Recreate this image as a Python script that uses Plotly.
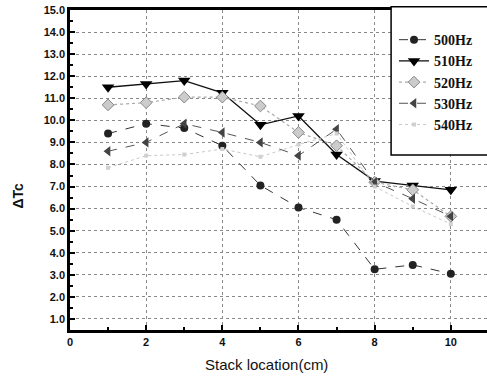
import plotly.graph_objects as go

x_cm = [1, 2, 3, 4, 5, 6, 7, 8, 9, 10]
dtc_500 = [9.4, 9.85, 9.65, 8.85, 7.05, 6.05, 5.5, 3.25, 3.45, 3.05]
dtc_510 = [11.5, 11.65, 11.8, 11.25, 9.8, 10.2, 8.45, 7.25, 7.05, 6.85]
dtc_520 = [10.7, 10.8, 11.05, 11.05, 10.65, 9.45, 8.85, 7.2, 6.85, 5.65]
dtc_530 = [8.6, 9.0, 9.85, 9.45, 9.0, 8.4, 9.6, 7.2, 6.45, 5.65]
dtc_540 = [7.85, 8.4, 8.45, 8.7, 8.35, 8.9, 9.4, 7.0, 6.1, 5.3]
series_names = ["500Hz", "510Hz", "520Hz", "530Hz", "540Hz"]
y_ticks = [1, 2, 3, 4, 5, 6, 7, 8, 9, 10, 11, 12, 13, 14, 15]
x_ticks = [0, 2, 4, 6, 8, 10]

styles = [
    dict(line=dict(color="#333333", width=1, dash="dash"),
         marker=dict(symbol="circle", size=8, color="#222222")),
    dict(line=dict(color="#111111", width=1.3, dash="solid"),
         marker=dict(symbol="triangle-down", size=11, color="#000000")),
    dict(line=dict(color="#aaaaaa", width=1.2, dash="dot"),
         marker=dict(symbol="diamond", size=9, color="#cccccc",
                     line=dict(color="#888888", width=1))),
    dict(line=dict(color="#555555", width=1, dash="dash"),
         marker=dict(symbol="triangle-left", size=9, color="#444444")),
    dict(line=dict(color="#c8c8c8", width=1, dash="dot"),
         marker=dict(symbol="square", size=4, color="#d0d0d0")),
]

fig = go.Figure()
for name, ys, st in zip(series_names, [dtc_500, dtc_510, dtc_520, dtc_530, dtc_540], styles):
    fig.add_trace(go.Scatter(x=x_cm, y=ys, mode="lines+markers", name=name,
                             line=st["line"], marker=st["marker"]))

tickfont = dict(family="Liberation Sans", size=11, color="#111111", weight="bold")

fig.update_layout(
    width=487, height=379,
    margin=dict(l=70, r=0, t=10, b=49),
    paper_bgcolor="white", plot_bgcolor="white",
    showlegend=True,
    legend=dict(x=0.777, y=0.956, xanchor="left", yanchor="top",
                bgcolor="rgba(0,0,0,0)", borderwidth=0,
                font=dict(family="Liberation Serif", size=14, color="#111111", weight="bold"),
                itemwidth=30, tracegroupgap=0),
    xaxis=dict(range=[0, 10.95], tickmode="array", tickvals=x_ticks,
               ticktext=[str(v) for v in x_ticks],
               showline=True, linecolor="black", linewidth=2.5, mirror=True,
               ticks="inside", ticklen=5, tickwidth=2, tickcolor="black",
               minor=dict(dtick=1, ticks="inside", ticklen=3, tickcolor="black", showgrid=False),
               showgrid=True, gridcolor="#888888", gridwidth=1, griddash="dot",
               tickfont=tickfont, zeroline=False),
    yaxis=dict(range=[0.5, 15], tickmode="array", tickvals=y_ticks,
               ticktext=[f"{v:.1f}" for v in y_ticks],
               showline=True, linecolor="black", linewidth=2.5,
               ticks="inside", ticklen=5, tickwidth=2, tickcolor="black",
               minor=dict(dtick=0.5, ticks="inside", ticklen=3, tickcolor="black", showgrid=False),
               showgrid=True, gridcolor="#888888", gridwidth=1, griddash="dot",
               tickfont=tickfont, zeroline=False),
    shapes=[dict(type="rect", xref="paper", yref="paper",
                 x0=0.77, x1=1.2, y0=0.547, y1=1.01,
                 fillcolor="white", line=dict(color="black", width=1.5), layer="above")],
    annotations=[
        dict(text="Stack location(cm)", xref="paper", yref="paper", x=0.472, y=-0.109,
             showarrow=False, xanchor="center", yanchor="middle",
             font=dict(family="Liberation Sans", size=15, color="#111111")),
        dict(text="ΔTc", xref="paper", yref="paper", x=-0.125, y=0.42,
             showarrow=False, xanchor="center", yanchor="middle", textangle=-90,
             font=dict(family="Liberation Sans", size=14, color="#111111", weight="bold")),
    ],
)

fig.write_html("out.html",
               config={"displayModeBar": False},
               post_script=("document.body.style.margin='0';"
                            "document.body.style.overflow='hidden';"
                            "document.documentElement.style.overflow='hidden';"))
